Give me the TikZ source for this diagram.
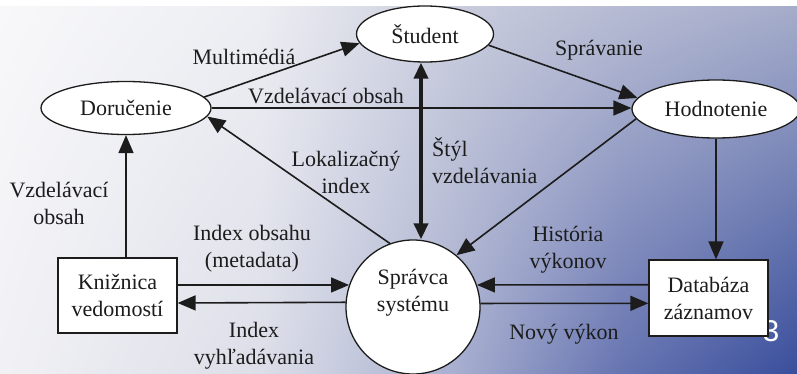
\documentclass[tikz,border=0pt]{standalone}
\usepackage{fontspec}
\setmainfont{Liberation Serif}
\newfontfamily\pagefont{Liberation Sans}
\usetikzlibrary{arrows.meta,shapes.geometric,shadings}

\definecolor{ink}{HTML}{1C1C1C}
% background tones, top row and bottom row, left to right
\definecolor{tA}{HTML}{F8F8FA}
\definecolor{tB}{HTML}{EDEEF3}
\definecolor{tC}{HTML}{CACDDD}
\definecolor{tD}{HTML}{B6BBD3}
\definecolor{tE}{HTML}{A5ACCA}
\definecolor{bA}{HTML}{F1F1F5}
\definecolor{bB}{HTML}{DCDEE8}
\definecolor{bC}{HTML}{A9B0D0}
\definecolor{bD}{HTML}{6674B1}
\definecolor{bE}{HTML}{394E9C}

\begin{document}
\begin{tikzpicture}[x=1pt,y=-1pt,
  every node/.style={font=\fontsize{22}{27}\selectfont, text=ink},
  oval/.style={ellipse, draw=ink, line width=1.3pt, fill=white, inner sep=0pt},
  store/.style={rectangle, draw=ink, line width=1.3pt, fill=white, inner sep=0pt, align=center},
  flow/.style={draw=ink, line width=1.6pt, -{Triangle[length=18pt,width=15pt]}},
  heavy/.style={draw=ink, line width=3.8pt,
    {Triangle[length=16pt,width=14pt]}-{Triangle[length=16pt,width=14pt]}},
  lbl/.style={align=center, inner sep=0pt}
]
\useasboundingbox (0,0) rectangle (797,374);

% shaded backdrop, built from bilinear segments
\shade[upper left=tA, upper right=tB, lower left=bA, lower right=bB] (0,7) rectangle (260.5,374);
\shade[upper left=tB, upper right=tC, lower left=bB, lower right=bC] (260,7) rectangle (450.5,374);
\shade[upper left=tC, upper right=tD, lower left=bC, lower right=bD] (450,7) rectangle (620.5,374);
\shade[upper left=tD, upper right=tE, lower left=bD, lower right=bE] (620,7) rectangle (797,374);

% page number
\node[font=\fontsize{30}{30}\pagefont, text=white] (pg) at (771,331) {3};

% processes and stores
\node[oval, minimum width=170pt, minimum height=53pt] (dor) at (126,108) {Doručenie};
\node[oval, minimum width=137pt, minimum height=56pt] (stud) at (425,34) {Študent};
\node[oval, minimum width=168pt, minimum height=58pt] (hod) at (716,109) {Hodnotenie};
\node[circle, draw=ink, line width=1.3pt, fill=white, minimum size=134pt, inner sep=0pt] (sprav) at (413,307) {};
\node[lbl] (spravtext) at (413,293) {Správca\\systému};
\node[store, minimum width=119pt, minimum height=75pt] (kniz) at (117.5,295.5) {Knižnica\\vedomostí};
\node[store, minimum width=119pt, minimum height=76pt] (db) at (708.5,298) {Databáza\\záznamov};

% flows
\draw[flow] (dor.8) -- (stud.188);
\draw[flow] (dor.east) -- (dor.east -| hod.west);
\draw[flow] (stud.-10) -- (hod.172);
\draw[heavy] ([xshift=-4pt]stud.south) -- ([xshift=-4pt]stud.south |- sprav.north);
\draw[flow] (hod.187) -- (sprav.50);
\draw[flow] (sprav.110) -- (dor.354);
\draw[flow] (dor.south |- kniz.north) -- (dor.south);
\draw[flow] ([yshift=10.5pt]kniz.east) -- (sprav.161);
\draw[flow] (sprav.176) -- ([yshift=-7.5pt]kniz.east);
\draw[flow] ([yshift=13.3pt]db.west) -- (sprav.19);
\draw[flow] (sprav.3) -- ([yshift=-5.3pt]db.west);
\draw[flow] (hod.south) -- (hod.south |- db.north);

% flow labels
\node[lbl] (l1) at (244,57) {Multimédiá};
\node[lbl] (l2) at (326,96) {Vzdelávací obsah};
\node[lbl] (l3) at (599,50) {Správanie};
\node[lbl, anchor=west, align=left] (l4) at (432,161) {Štýl\\vzdelávania};
\node[lbl] (l5) at (346,172) {Lokalizačný\\index};
\node[lbl] (l6) at (59,203) {Vzdelávací\\obsah};
\node[lbl] (l7) at (252,249) {Index obsahu\\(metadata)};
\node[lbl] (l8) at (254,346) {Index\\vyhľadávania};
\node[lbl] (l9) at (568,250) {História\\výkonov};
\node[lbl] (l10) at (564,334) {Nový výkon};
\end{tikzpicture}
\end{document}
